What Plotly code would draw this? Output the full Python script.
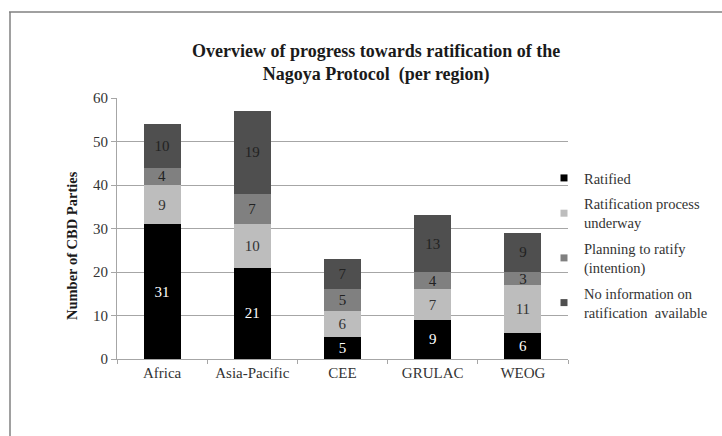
import plotly.graph_objects as go

regions = ["Africa", "Asia-Pacific", "CEE", "GRULAC", "WEOG"]
ratified = [31, 21, 5, 9, 6]
process_underway = [9, 10, 6, 7, 11]
planning = [4, 7, 5, 4, 3]
no_info = [10, 19, 7, 13, 9]
y_ticks = [0, 10, 20, 30, 40, 50, 60]

series = [
    ("Ratified", ratified, "#000000", "#ffffff"),
    ("Ratification process<br>underway", process_underway, "#bdbdbd", "#333333"),
    ("Planning to ratify<br>(intention)", planning, "#808080", "#222222"),
    ("No information on<br>ratification  available", no_info, "#4f4f4f", "#222222"),
]

FONT = "Liberation Serif, Times New Roman, serif"
fig = go.Figure()
for i, (name, vals, color, tcolor) in enumerate(series):
    fig.add_trace(go.Bar(
        x=regions, y=vals, name=name, showlegend=False,
        marker=dict(color=color, line=dict(width=0)),
        text=vals, textposition="inside", insidetextanchor="middle",
        textangle=0, constraintext="none",
        textfont=dict(family=FONT, size=15, color=tcolor),
        hoverinfo="skip",
    ))
# legend keys (small square swatches, as in the original)
for i, (name, vals, color, tcolor) in enumerate(series):
    fig.add_trace(go.Scatter(
        x=[regions[0]], y=[None], mode="markers", name=name, legendgroup=f"g{i}",
        marker=dict(symbol="square", size=7, color=color), hoverinfo="skip",
    ))

L, R, T, B = 117, 154, 98, 77
W, H = 722, 436
pw, ph = W - L - R, H - T - B

def px(x):
    return (x - L) / pw

def py(y):
    return (H - B - y) / ph

fig.update_layout(
    width=W, height=H, barmode="stack", bargap=0.59,
    margin=dict(l=L, r=R, t=T, b=B, autoexpand=False),
    paper_bgcolor="white", plot_bgcolor="white",
    font=dict(family=FONT, size=14, color="#333333"),
    showlegend=True,
    legend=dict(
        x=px(544), y=py(162), xanchor="left", yanchor="top",
        traceorder="grouped", tracegroupgap=4, itemsizing="trace",
        font=dict(family=FONT, size=14.5, color="#333333"),
        itemwidth=30, bgcolor="rgba(0,0,0,0)",
    ),
    xaxis=dict(
        type="category", showgrid=False, showline=True, linecolor="#a6a6a6",
        linewidth=1, ticks="outside", tickson="boundaries", ticklen=4,
        tickcolor="#a6a6a6", tickfont=dict(family=FONT, size=15, color="#333333"),
    ),
    yaxis=dict(
        range=[0, 60], tickvals=y_ticks, showgrid=True, gridcolor="#a6a6a6",
        gridwidth=1, showline=True, linecolor="#a6a6a6", linewidth=1,
        ticks="outside", ticklen=5, tickcolor="#a6a6a6",
        tickfont=dict(family=FONT, size=15, color="#333333"), zeroline=False,
    ),
    annotations=[
        dict(text="<b>Overview of progress towards ratification of the<br>Nagoya Protocol  (per region)</b>",
             xref="paper", yref="paper", x=px(376), y=py(63), xanchor="center", yanchor="middle",
             showarrow=False, font=dict(family=FONT, size=18, color="#1a1a1a")),
        dict(text="<b>Number of CBD Parties</b>", textangle=-90,
             xref="paper", yref="paper", x=px(72), y=py(246), xanchor="center", yanchor="middle",
             showarrow=False, font=dict(family=FONT, size=14.5, color="#1a1a1a")),
    ],
    shapes=[
        dict(type="line", xref="paper", yref="paper", x0=px(10), x1=px(10), y0=py(12), y1=py(440),
             line=dict(color="#808080", width=1.5)),
        dict(type="line", xref="paper", yref="paper", x0=px(9), x1=px(725), y0=py(12), y1=py(12),
             line=dict(color="#808080", width=1.5)),
    ],
)

fig.write_html("out.html", config={"displayModeBar": False},
               post_script="document.body.style.margin='0';document.body.style.overflow='hidden';")
